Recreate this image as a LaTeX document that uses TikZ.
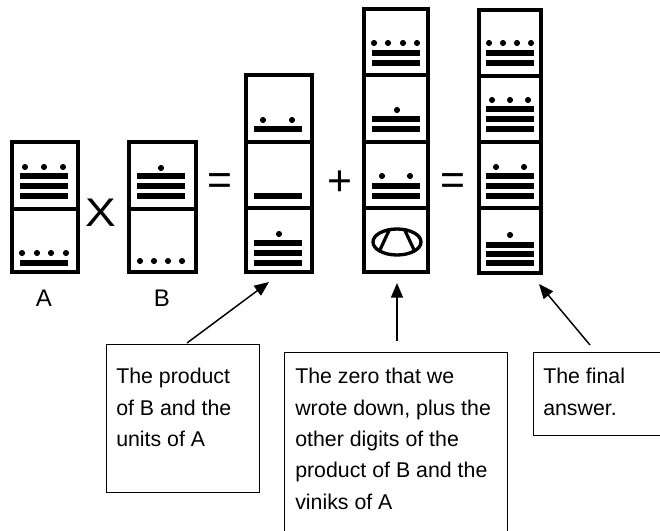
\documentclass[tikz,border=0pt]{standalone}
\usepackage{fontspec}
\usepackage{graphicx}
\setmainfont{Liberation Sans}
\usetikzlibrary{arrows.meta,calc}
\newcommand\mybar[3]{\fill (#1,#3-2.6) rectangle (#2,#3+2.6);}
\newcommand\mydot[2]{\fill (#1,#2) circle[radius=2.3pt];}
\begin{document}
\begin{tikzpicture}[x=0.75pt,y=-0.75pt,
  col/.style={line width=3pt},
  box/.style={draw, line width=1.1pt, inner sep=0pt, anchor=north west},
  txt/.style={inner sep=0pt, anchor=north west, align=left, font=\fontsize{16}{23.5}\selectfont},
  op/.style={font=\fontsize{32}{32}\selectfont, inner sep=0pt},
  lbl/.style={font=\fontsize{18}{18}\selectfont, inner sep=0pt},
  arr/.style={line width=1.1pt, -{Triangle[length=11pt,width=9pt]}}]
\useasboundingbox (0,0) rectangle (660,531);
\clip (0,0) rectangle (660,531);
\fill[white] (0,0) rectangle (660,531);

% Column A
\draw[col] (12,142) rectangle (78,272) (12,209) -- (78,209);
\mydot{25}{167}\mydot{44}{167}\mydot{63}{167}
\mybar{20}{68}{176}\mybar{20}{68}{186}\mybar{20}{68}{196}
\mydot{22}{253}\mydot{37}{253}\mydot{51}{253}\mydot{66}{253}
\mybar{20}{68}{263}

% Column B
\draw[col] (129,142) rectangle (196,272) (129,209) -- (196,209);
\mydot{161}{168}
\mybar{137}{185}{176}\mybar{137}{185}{186}\mybar{137}{185}{196}
\mydot{140}{261}\mydot{154}{261}\mydot{168}{261}\mydot{182}{261}

% Column 3 (product)
\draw[col] (246,75) rectangle (312,272) (246,142) -- (312,142) (246,208) -- (312,208);
\mydot{263}{120}\mydot{292}{120}
\mybar{254}{302}{129}
\mybar{254}{302}{196}
\mydot{279}{234}
\mybar{254}{302}{243}\mybar{254}{302}{253}\mybar{254}{302}{263}

% Column 4
\draw[col] (364,9) rectangle (428,272) (364,75) -- (428,75) (364,142) -- (428,142) (364,208) -- (428,208);
\mydot{374}{43}\mydot{388}{43}\mydot{403}{43}\mydot{417}{43}
\mybar{372}{420}{53}\mybar{372}{420}{63}
\mydot{397}{110}
\mybar{372}{420}{119}\mybar{372}{420}{129}
\mydot{382}{176}\mydot{410}{176}
\mybar{372}{420}{186}\mybar{372}{420}{196}
\draw[line width=2.5pt] (397,242) ellipse[x radius=24, y radius=13];
\draw[line width=2.4pt] (389.5,229.5) -- (379,252) (404.5,229.5) -- (415,252);

% Column 5
\draw[col] (479,10) rectangle (541,273) (479,76) -- (541,76) (479,142) -- (541,142) (479,208) -- (541,208);
\mydot{489}{43}\mydot{503}{43}\mydot{517}{43}\mydot{531}{43}
\mybar{486}{534}{53}\mybar{486}{534}{63}
\mydot{492}{100}\mydot{510}{100}\mydot{528}{100}
\mybar{486}{534}{109}\mybar{486}{534}{119}\mybar{486}{534}{129}
\mydot{496}{167}\mydot{524}{167}
\mybar{486}{534}{176}\mybar{486}{534}{186}\mybar{486}{534}{196}
\mydot{510}{235}
\mybar{486}{534}{245}\mybar{486}{534}{254}\mybar{486}{534}{263}

% operators and labels
\node[op, font=\fontsize{30}{30}\selectfont] (times) at (101,213) {\scalebox{1.15}[1]{X}};
\node[op] (eq1) at (220,184) {=};
\node[op] (plus) at (340,183) {+};
\node[op] (eq2) at (453,184) {=};
\node[lbl] (la) at (44,298) {A};
\node[lbl] (lb) at (162,298) {B};

% boxes
\node[box, minimum width=114.75pt, minimum height=111pt] (b1) at (106,344) {};
\node[box, minimum width=167.25pt, minimum height=150pt] (b2) at (284,352) {};
\node[box, minimum width=110.25pt, minimum height=62pt] (b3) at (533,352) {};
\node[txt] (t1) at (116,368) {The product\\of B and the\\units of A};
\node[txt] (t2) at (295,368) {The zero that we\\wrote down, plus the\\other digits of the\\product of B and the\\viniks of A};
\node[txt] (t3) at (543,368) {The final\\answer.};

% arrows
\coordinate (s1) at (187,343);
\coordinate (e1) at (269,282);
\coordinate (s2) at (397,341);
\coordinate (e2) at (397,283);
\coordinate (s3) at (590,345);
\coordinate (e3) at (539,284);
\draw[arr] (s1) -- (e1);
\draw[arr] (s2) -- (e2);
\draw[arr] (s3) -- (e3);
\end{tikzpicture}
\end{document}
